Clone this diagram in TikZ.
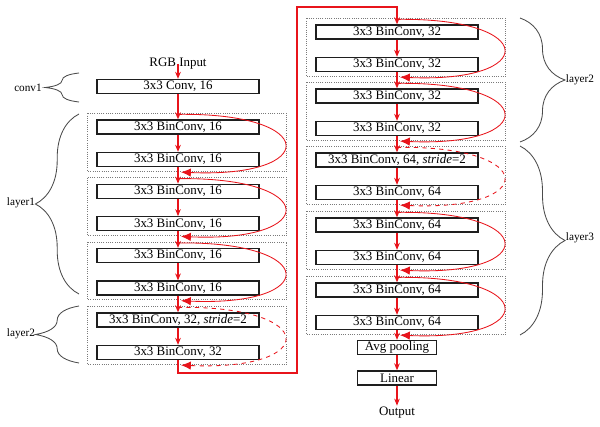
\documentclass[tikz,border=0pt]{standalone}
\usepackage{fontspec}
\setmainfont{Liberation Serif}
\usepackage{xcolor}
\usetikzlibrary{arrows.meta,positioning,calc,decorations.pathreplacing}
\definecolor{FlowRed}{HTML}{E8141B}
\definecolor{GroupGray}{HTML}{7A7A7A}
\definecolor{BoxInk}{HTML}{1E1E1E}

\begin{document}
\begin{tikzpicture}[x=0.025cm,y=-0.025cm,font=\fontsize{9.2}{10}\selectfont,>=Latex,
  convbox/.style={draw=BoxInk,line width=0.9pt,minimum width=4.05cm,minimum height=0.35cm,inner sep=0pt},
  smallbox/.style={convbox,minimum width=1.98cm},
  groupbox/.style={draw=GroupGray,line width=0.6pt,densely dotted},
  flow/.style={FlowRed,line width=1.1pt,-{Stealth[length=5pt,width=4pt]}},
  skip/.style={FlowRed,line width=0.6pt,-{Latex[length=7pt,width=6pt]}},
  bracelabel/.style={font=\fontsize{8}{9}\selectfont},
  curly/.style={decorate,line width=0.6pt,draw=BoxInk!80}]
\useasboundingbox (0,0) rectangle (600,427);
\node[inner sep=1pt] (rgb) at (178,64){RGB Input};
\node[convbox] (conv) at (178,86.5){3x3 Conv, 16};
\foreach \g/\cx/\ty/\ta/\tb/\sk in {a/178/114/{3x3 BinConv, 16}/{3x3 BinConv, 16}/solid,b/178/178.3/{3x3 BinConv, 16}/{3x3 BinConv, 16}/solid,c/178/242.6/{3x3 BinConv, 16}/{3x3 BinConv, 16}/solid,d/178/307/{3x3 BinConv, 32, \textit{stride}=2}/{3x3 BinConv, 32}/dashed,e/397/19/{3x3 BinConv, 32}/{3x3 BinConv, 32}/solid,f/397/83/{3x3 BinConv, 32}/{3x3 BinConv, 32}/solid,g/397/147/{3x3 BinConv, 64, \textit{stride}=2}/{3x3 BinConv, 64}/dashed,h/397/212/{3x3 BinConv, 64}/{3x3 BinConv, 64}/solid,k/397/277/{3x3 BinConv, 64}/{3x3 BinConv, 64}/solid}{
\node[convbox] (\g1) at (\cx,\ty+13) {\ta};
\node[convbox] (\g2) at (\cx,\ty+45.5) {\tb};
\draw[groupbox] ($(\g1.north west)+(-9,-6)$) rectangle ($(\g2.south east)+(27,4)$);
\draw[flow] (\g1) -- (\g2);
\draw[skip,\sk] ($(\g1.north)+(0,-5)$) .. controls +(142,-2) and +(139,6) .. ($(\g2.south)+(3,5)$);
}
\node[smallbox] (avg) at (397,347.5){Avg pooling};
\node[smallbox] (lin) at (397,378){Linear};
\node[inner sep=1pt] (out) at (397,413){Output};
\coordinate (jumpA) at (297,373);
\coordinate (jumpB) at (297,7);
\draw[flow] (rgb.center) -- (conv);
\draw[flow] (conv) -- (a1);
\draw[flow] (a2) -- (b1);
\draw[flow] (b2) -- (c1);
\draw[flow] (c2) -- (d1);
\draw[flow] (d2.south) |- (jumpA) -- (jumpB) -| (e1.north);
\draw[flow] (e2) -- (f1);
\draw[flow] (f2) -- (g1);
\draw[flow] (g2) -- (h1);
\draw[flow] (h2) -- (k1);
\draw[flow] (k2) -- (avg);
\draw[flow] (avg) -- (lin);
\draw[flow] (lin) -- (out);
\draw[curly,decoration={brace,amplitude=24}] (79,102) -- (79,73);
\draw[curly,decoration={brace,amplitude=31}] (79,294) -- (79,114);
\draw[curly,decoration={brace,amplitude=31}] (79,363) -- (79,306);
\draw[curly,decoration={brace,amplitude=32}] (520,18) -- (520,142);
\draw[curly,decoration={brace,amplitude=32}] (520,146) -- (520,335);
\node[bracelabel] (lconv) at (28,88){conv1};
\node[bracelabel] (llay1) at (21,203){layer1};
\node[bracelabel] (llay2) at (21,334){layer2};
\node[bracelabel] (rlay2) at (580,80){layer2};
\node[bracelabel] (rlay3) at (580,238){layer3};
\end{tikzpicture}
\end{document}
